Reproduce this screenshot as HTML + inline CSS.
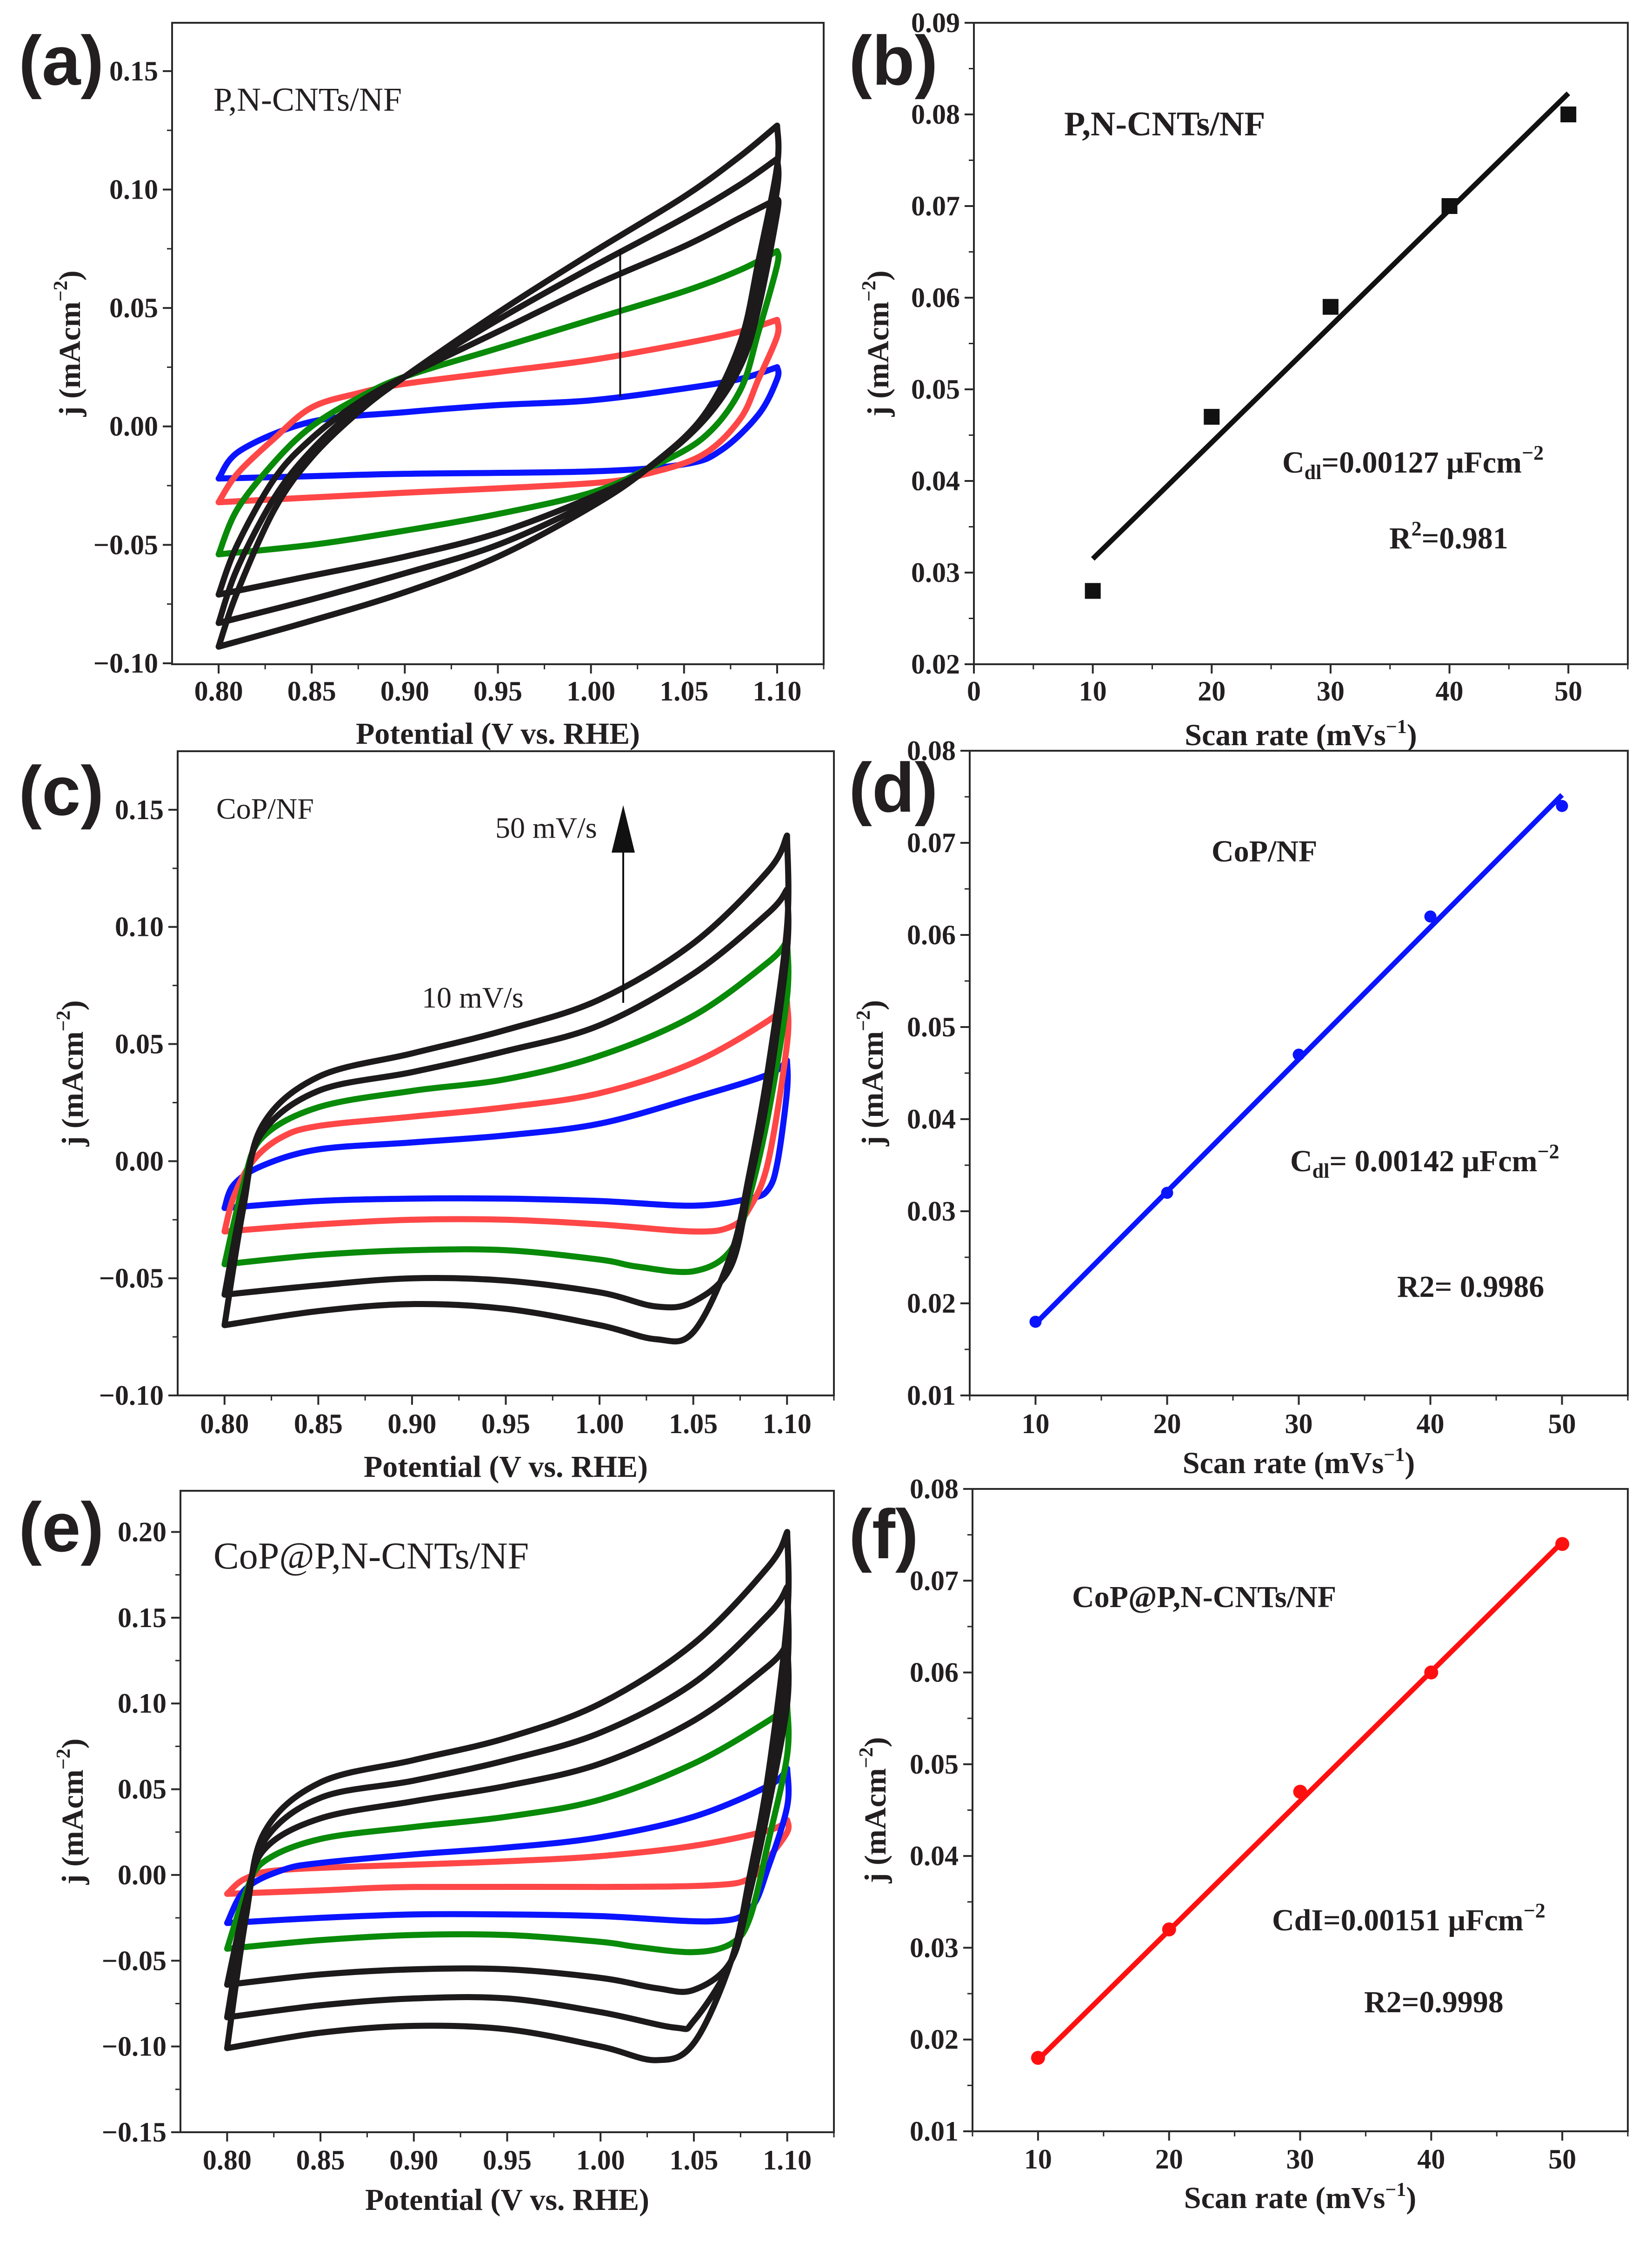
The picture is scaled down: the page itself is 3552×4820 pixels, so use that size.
<!DOCTYPE html>
<html><head><meta charset="utf-8"><style>
html,body{margin:0;padding:0;background:#fff}
svg{display:block}
text{font-family:"Liberation Serif",serif;fill:#231f20}
.tick{font-weight:bold;font-size:60px}
.title{font-weight:bold;font-size:66px}
.plab{font-family:"Liberation Sans",sans-serif;font-weight:bold;font-size:150px}
</style></head><body>
<svg id="fig" width="3552" height="4820" viewBox="0 0 3552 4820" xmlns="http://www.w3.org/2000/svg">
<rect width="3552" height="4820" fill="#fff"/>
</svg>
<script>
// ---------- data: panel (a) P,N-CNTs/NF CV curves [V, j] ----------
const aBlueFwd=[[0.80,-0.022],[0.812,-0.010],[0.85,0.002],[0.90,0.006],[0.95,0.009],[1.00,0.011],[1.05,0.016],[1.08,0.020],[1.10,0.025]];
const aBlueRev=[[1.10,0.020],[1.09,0.005],[1.07,-0.010],[1.05,-0.016],[1.00,-0.019],[0.90,-0.020],[0.85,-0.021],[0.80,-0.022]];
const aRedFwd=[[0.80,-0.032],[0.81,-0.020],[0.83,-0.005],[0.85,0.008],[0.875,0.014],[0.90,0.018],[0.95,0.023],[1.00,0.028],[1.05,0.035],[1.08,0.040],[1.10,0.045]];
const aRedRev=[[1.10,0.038],[1.09,0.020],[1.08,0.003],[1.06,-0.012],[1.03,-0.020],[1.00,-0.024],[0.90,-0.028],[0.85,-0.030],[0.80,-0.032]];
const aGreenFwd=[[0.80,-0.054],[0.81,-0.035],[0.83,-0.015],[0.85,0.000],[0.875,0.012],[0.90,0.021],[0.95,0.033],[1.00,0.045],[1.05,0.057],[1.08,0.066],[1.10,0.074]];
const aGreenRev=[[1.10,0.068],[1.09,0.040],[1.08,0.015],[1.06,-0.005],[1.03,-0.018],[1.00,-0.028],[0.95,-0.037],[0.90,-0.044],[0.85,-0.050],[0.80,-0.054]];
const aBlack1Fwd=[[0.80,-0.071],[0.81,-0.050],[0.83,-0.022],[0.85,-0.005],[0.875,0.010],[0.90,0.021],[0.95,0.040],[1.00,0.059],[1.05,0.076],[1.08,0.088],[1.10,0.096]];
const aBlack1Rev=[[1.10,0.090],[1.09,0.050],[1.08,0.025],[1.06,0.002],[1.03,-0.018],[1.00,-0.030],[0.95,-0.045],[0.90,-0.055],[0.85,-0.063],[0.80,-0.071]];
const aBlack2Fwd=[[0.80,-0.083],[0.81,-0.060],[0.83,-0.030],[0.85,-0.010],[0.875,0.008],[0.90,0.021],[0.95,0.045],[1.00,0.067],[1.05,0.088],[1.08,0.102],[1.10,0.113]];
const aBlack2Rev=[[1.10,0.100],[1.09,0.060],[1.08,0.030],[1.06,0.003],[1.03,-0.018],[1.00,-0.032],[0.95,-0.050],[0.90,-0.062],[0.85,-0.073],[0.80,-0.083]];
const aBlack3Fwd=[[0.80,-0.093],[0.81,-0.070],[0.83,-0.035],[0.85,-0.013],[0.875,0.006],[0.90,0.021],[0.95,0.048],[1.00,0.073],[1.05,0.097],[1.08,0.114],[1.10,0.127]];
const aBlack3Rev=[[1.10,0.110],[1.09,0.070],[1.08,0.035],[1.06,0.004],[1.03,-0.018],[1.00,-0.034],[0.95,-0.055],[0.90,-0.070],[0.85,-0.082],[0.80,-0.093]];
// ---------- data: panel (c) CoP/NF ----------
const cBlueFwd=[[0.80,-0.020],[0.805,-0.010],[0.82,-0.002],[0.85,0.005],[0.90,0.008],[0.95,0.011],[1.00,0.016],[1.05,0.027],[1.09,0.037],[1.10,0.043]];
const cBlueRev=[[1.10,0.030],[1.095,0.000],[1.09,-0.012],[1.08,-0.016],[1.05,-0.019],[1.00,-0.017],[0.95,-0.016],[0.90,-0.016],[0.85,-0.017],[0.80,-0.020]];
const cRedFwd=[[0.80,-0.030],[0.805,-0.015],[0.815,0.000],[0.83,0.010],[0.85,0.015],[0.90,0.019],[0.95,0.023],[1.00,0.029],[1.05,0.042],[1.09,0.060],[1.10,0.068]];
const cRedRev=[[1.10,0.050],[1.09,0.000],[1.08,-0.020],[1.07,-0.028],[1.05,-0.030],[1.00,-0.027],[0.95,-0.025],[0.90,-0.025],[0.85,-0.027],[0.80,-0.030]];
const cGreenFwd=[[0.80,-0.044],[0.81,-0.010],[0.82,0.010],[0.85,0.023],[0.90,0.030],[0.95,0.035],[1.00,0.045],[1.05,0.062],[1.09,0.085],[1.10,0.094]];
const cGreenRev=[[1.10,0.070],[1.09,0.020],[1.08,-0.015],[1.07,-0.038],[1.05,-0.047],[1.02,-0.045],[1.00,-0.042],[0.95,-0.038],[0.90,-0.038],[0.85,-0.040],[0.80,-0.044]];
const cBlack1Fwd=[[0.80,-0.057],[0.81,-0.015],[0.82,0.012],[0.85,0.030],[0.90,0.038],[0.95,0.047],[1.00,0.058],[1.05,0.080],[1.09,0.106],[1.10,0.116]];
const cBlack1Rev=[[1.10,0.090],[1.09,0.030],[1.08,-0.010],[1.07,-0.045],[1.05,-0.060],[1.03,-0.062],[1.00,-0.056],[0.95,-0.051],[0.90,-0.050],[0.85,-0.053],[0.80,-0.057]];
const cBlack2Fwd=[[0.80,-0.070],[0.81,-0.020],[0.82,0.015],[0.85,0.036],[0.90,0.046],[0.95,0.056],[1.00,0.069],[1.05,0.093],[1.09,0.124],[1.10,0.139]];
const cBlack2Rev=[[1.10,0.100],[1.09,0.040],[1.08,-0.005],[1.07,-0.040],[1.05,-0.073],[1.03,-0.076],[1.00,-0.070],[0.95,-0.063],[0.90,-0.061],[0.85,-0.064],[0.80,-0.070]];
// ---------- data: panel (e) CoP@P,N-CNTs/NF ----------
const eRedFwd=[[0.80,-0.011],[0.81,-0.002],[0.83,0.003],[0.90,0.006],[0.95,0.008],[1.00,0.011],[1.05,0.017],[1.09,0.026],[1.10,0.032]];
const eRedRev=[[1.10,0.025],[1.09,0.010],[1.08,-0.002],[1.06,-0.006],[1.00,-0.007],[0.90,-0.007],[0.85,-0.009],[0.80,-0.011]];
const eBlueFwd=[[0.80,-0.028],[0.81,-0.008],[0.83,0.003],[0.85,0.007],[0.90,0.012],[0.95,0.016],[1.00,0.022],[1.05,0.034],[1.09,0.052],[1.10,0.062]];
const eBlueRev=[[1.10,0.040],[1.09,0.005],[1.08,-0.020],[1.06,-0.027],[1.00,-0.024],[0.95,-0.023],[0.90,-0.023],[0.85,-0.025],[0.80,-0.028]];
const eGreenFwd=[[0.80,-0.043],[0.81,-0.010],[0.82,0.008],[0.85,0.021],[0.90,0.028],[0.95,0.034],[1.00,0.044],[1.05,0.065],[1.09,0.090],[1.10,0.099]];
const eGreenRev=[[1.10,0.070],[1.09,0.020],[1.08,-0.025],[1.07,-0.040],[1.05,-0.045],[1.02,-0.042],[1.00,-0.039],[0.95,-0.035],[0.90,-0.035],[0.85,-0.038],[0.80,-0.043]];
const eBlack1Fwd=[[0.80,-0.064],[0.81,-0.015],[0.82,0.015],[0.85,0.033],[0.90,0.043],[0.95,0.052],[1.00,0.065],[1.05,0.090],[1.09,0.122],[1.10,0.135]];
const eBlack1Rev=[[1.10,0.100],[1.09,0.040],[1.08,-0.010],[1.07,-0.050],[1.05,-0.067],[1.03,-0.066],[1.00,-0.060],[0.95,-0.055],[0.90,-0.055],[0.85,-0.058],[0.80,-0.064]];
const eBlack2Fwd=[[0.80,-0.083],[0.81,-0.020],[0.82,0.020],[0.85,0.045],[0.90,0.055],[0.95,0.067],[1.00,0.083],[1.05,0.112],[1.09,0.152],[1.10,0.168]];
const eBlack2Rev=[[1.10,0.120],[1.09,0.050],[1.08,-0.005],[1.07,-0.050],[1.05,-0.085],[1.04,-0.089],[1.00,-0.080],[0.95,-0.072],[0.90,-0.072],[0.85,-0.076],[0.80,-0.083]];
const eBlack3Fwd=[[0.80,-0.101],[0.81,-0.025],[0.82,0.025],[0.85,0.054],[0.90,0.067],[0.95,0.080],[1.00,0.100],[1.05,0.135],[1.09,0.180],[1.10,0.200]];
const eBlack3Rev=[[1.10,0.150],[1.09,0.060],[1.08,0.000],[1.07,-0.050],[1.05,-0.098],[1.03,-0.108],[1.00,-0.100],[0.95,-0.090],[0.90,-0.088],[0.85,-0.092],[0.80,-0.101]];
// ---------- data: Cdl panels ----------
const scanRates=[10,20,30,40,50];
const bValues=[0.028,0.047,0.059,0.070,0.080];
const bFit=[0.0315,0.0823];
const dValues=[0.018,0.032,0.047,0.062,0.074];
const dFit=[0.0178,0.0752];
const fValues=[0.018,0.032,0.047,0.060,0.074];
const fFit=[0.0178,0.0742];
const cvXTicks=[0.80,0.85,0.90,0.95,1.00,1.05,1.10];
const aYTicks=[-0.10,-0.05,0.00,0.05,0.10,0.15];
const cYTicks=[-0.10,-0.05,0.00,0.05,0.10,0.15];
const eYTicks=[-0.15,-0.10,-0.05,0.00,0.05,0.10,0.15,0.20];
const bXTicks=[0,10,20,30,40,50];
const dXTicks=[10,20,30,40,50];
const bYTicks=[0.02,0.03,0.04,0.05,0.06,0.07,0.08,0.09];
const dYTicks=[0.01,0.02,0.03,0.04,0.05,0.06,0.07,0.08];

const NS='http://www.w3.org/2000/svg';
const svg=document.getElementById('fig');
function mk(tag,attrs,parent){const e=document.createElementNS(NS,tag);for(const k in attrs)e.setAttribute(k,attrs[k]);(parent||svg).appendChild(e);return e;}
function panel(name,box,xd,yd){
  const g=mk('g',{});
  
  
  return {g,box,sx:v=>box[0]+(v-xd[0])/(xd[1]-xd[0])*(box[2]-box[0]),sy:v=>box[3]-(v-yd[0])/(yd[1]-yd[0])*(box[3]-box[1])};
}
function fmt(v,d){const s=Math.abs(v).toFixed(d);return (v<-1e-9?'\u2212':'')+s;}
function axes(P,xt,xminor,yt,yminor,xdec,ydec,xlabY,xTitle,xTitleY,yTitleX){
  const b=P.box,g=P.g;
  const fr=mk('rect',{x:b[0],y:b[1],width:b[2]-b[0],height:b[3]-b[1],fill:'none',stroke:'#2a2a2a','stroke-width':4},g);
  
  
  xt.forEach(v=>{const x=P.sx(v);
    const t=mk('line',{x1:x,x2:x,y1:b[3],y2:b[3]+20,stroke:'#2a2a2a','stroke-width':4},g);
    
    
    const l=mk('text',{x:x,y:xlabY,'text-anchor':'middle',class:'tick'},g);l.textContent=fmt(v,xdec);
    
    });
  xminor.forEach(v=>{const x=P.sx(v);
    const t=mk('line',{x1:x,x2:x,y1:b[3],y2:b[3]+11,stroke:'#2a2a2a','stroke-width':3},g);
    
    });
  yt.forEach(v=>{const y=P.sy(v);
    const t=mk('line',{x1:b[0]-20,x2:b[0],y1:y,y2:y,stroke:'#2a2a2a','stroke-width':4},g);
    
    
    const l=mk('text',{x:b[0]-30,y:y+20,'text-anchor':'end',class:'tick'},g);l.textContent=fmt(v,ydec);
    
    });
  yminor.forEach(v=>{const y=P.sy(v);
    const t=mk('line',{x1:b[0]-11,x2:b[0],y1:y,y2:y,stroke:'#2a2a2a','stroke-width':3},g);
    
    });
  const xt2=mk('text',{x:(b[0]+b[2])/2,y:xTitleY,'text-anchor':'middle',class:'title'},g);
  
  
  xt2.innerHTML=xTitle;
  const cy=(b[1]+b[3])/2;
  const yt2=mk('text',{x:yTitleX,y:cy,'text-anchor':'middle',class:'title',transform:`rotate(-90 ${yTitleX} ${cy})`,dy:'20'},g);
  
  
  yt2.innerHTML='j (mAcm<tspan font-size="42" dy="-28">\u22122</tspan><tspan dy="28">)</tspan>';
}
function spline(pts){
  let d=`M${pts[0][0].toFixed(1)},${pts[0][1].toFixed(1)}`;
  for(let i=0;i<pts.length-1;i++){
    const p0=pts[i-1]||pts[i],p1=pts[i],p2=pts[i+1],p3=pts[i+2]||p2;
    const c1=[p1[0]+(p2[0]-p0[0])/6,p1[1]+(p2[1]-p0[1])/6],c2=[p2[0]-(p3[0]-p1[0])/6,p2[1]-(p3[1]-p1[1])/6];
    d+=`C${c1[0].toFixed(1)},${c1[1].toFixed(1)} ${c2[0].toFixed(1)},${c2[1].toFixed(1)} ${p2[0].toFixed(1)},${p2[1].toFixed(1)}`;
  }
  return d;
}
function cv(P,fwd,rev,color,name){
  const a=spline(fwd.map(p=>[P.sx(p[0]),P.sy(p[1])]));
  const r=spline([fwd[fwd.length-1]].concat(rev).map(p=>[P.sx(p[0]),P.sy(p[1])]));
  const e=mk('path',{d:a+' '+r.replace('M','L')+'Z',fill:'none',stroke:color,'stroke-width':13,'stroke-linejoin':'round'},P.g);
  
  
}
function txt(P,x,y,html,size,bold,name){
  const t=mk('text',{x:x,y:y,'font-size':size,'font-weight':bold?'bold':'normal'},P.g);
  t.innerHTML=html;
  
  
}
function plab(x,y,s,name){
  const t=mk('text',{x:x,y:y,class:'plab'});t.textContent=s;
  
  
}
const cvMinor=[0.825,0.875,0.925,0.975,1.025,1.075,1.125];
const POT='Potential (V vs. RHE)';
const SCAN='Scan rate (mVs<tspan font-size="42" dy="-26">\u22121</tspan><tspan dy="26">)</tspan>';
const BLK='#1c1a1a',BLU='#0a14ff',RED='#ff4747',GRN='#098a09';

// (a)
const A=panel('panel-a-cv',[370,49,1771,1428],[0.775,1.125],[-0.1004,0.1704]);
axes(A,cvXTicks,cvMinor,aYTicks,[-0.075,-0.025,0.025,0.075,0.125],2,2,1506,POT,1599,152);
cv(A,aBlueFwd,aBlueRev,BLU,'cv-10mvs');cv(A,aRedFwd,aRedRev,RED,'cv-20mvs');cv(A,aGreenFwd,aGreenRev,GRN,'cv-30mvs');
cv(A,aBlack1Fwd,aBlack1Rev,BLK,'cv-40mvs');cv(A,aBlack2Fwd,aBlack2Rev,BLK,'cv-50mvs');cv(A,aBlack3Fwd,aBlack3Rev,BLK,'cv-60mvs');
{const l=mk('line',{x1:A.sx(1.0157),x2:A.sx(1.0157),y1:A.sy(0.0126),y2:A.sy(0.0746),stroke:'#111','stroke-width':4},A.g);

}
txt(A,459,238,'P,N-CNTs/NF',72,false,'sample-label');
plab(40,182,'(a)','panel-label-a');

// (b)
const B=panel('panel-b-cdl',[2094,49,3500,1428],[0,55],[0.02,0.09]);
axes(B,bXTicks,[5,15,25,35,45,55],bYTicks,[0.025,0.035,0.045,0.055,0.065,0.075,0.085],0,2,1506,SCAN,1602,1890);
{const l=mk('line',{x1:B.sx(scanRates[0]),y1:B.sy(bFit[0]),x2:B.sx(scanRates[4]),y2:B.sy(bFit[1]),stroke:'#111','stroke-width':11},B.g);

}
scanRates.forEach((s,i)=>{const r=mk('rect',{x:B.sx(s)-17,y:B.sy(bValues[i])-17,width:34,height:34,fill:'#111'},B.g);

});
txt(B,2288,291,'P,N-CNTs/NF',74,true,'sample-label');
txt(B,2757,1016,'C<tspan font-size="44" dy="14">dl</tspan><tspan dy="-14">=0.00127 \u03bcFcm</tspan><tspan font-size="44" dy="-28">\u22122</tspan>',66,true,'cdl-annotation');
txt(B,2987,1179,'R<tspan font-size="44" dy="-28">2</tspan><tspan dy="28">=0.981</tspan>',66,true,'r2-annotation');
plab(1825,182,'(b)','panel-label-b');

// (c)
const C=panel('panel-c-cv',[382,1615,1793,3000],[0.775,1.125],[-0.10,0.175]);
axes(C,cvXTicks,cvMinor,cYTicks,[-0.075,-0.025,0.025,0.075,0.125],2,2,3081,POT,3175,158);
cv(C,cBlueFwd,cBlueRev,BLU,'cv-10mvs');cv(C,cRedFwd,cRedRev,RED,'cv-20mvs');cv(C,cGreenFwd,cGreenRev,GRN,'cv-30mvs');
cv(C,cBlack1Fwd,cBlack1Rev,BLK,'cv-40mvs');cv(C,cBlack2Fwd,cBlack2Rev,BLK,'cv-50mvs');
{const l=mk('line',{x1:1340,x2:1340,y1:2156,y2:1830,stroke:'#111','stroke-width':4},C.g);


const h=mk('polygon',{points:'1340,1731 1315,1833 1365,1833',fill:'#111'},C.g);

}
txt(C,465,1760,'CoP/NF',64,false,'sample-label');
txt(C,1065,1801,'50 mV/s',64,false,'arrow-label-50');
txt(C,907,2166,'10 mV/s',64,false,'arrow-label-10');
plab(40,1752,'(c)','panel-label-c');

// (d)
const D=panel('panel-d-cdl',[2085,1614,3500,3000],[5,55],[0.01,0.08]);
axes(D,dXTicks,[5,15,25,35,45,55],dYTicks,[0.015,0.025,0.035,0.045,0.055,0.065,0.075],0,2,3081,SCAN,3167,1878);
{const l=mk('line',{x1:D.sx(scanRates[0]),y1:D.sy(dFit[0]),x2:D.sx(scanRates[4]),y2:D.sy(dFit[1]),stroke:BLU,'stroke-width':11},D.g);

}
scanRates.forEach((s,i)=>{const c=mk('circle',{cx:D.sx(s),cy:D.sy(dValues[i]),r:13,fill:BLU},D.g);

});
txt(D,2605,1852,'CoP/NF',66,true,'sample-label');
txt(D,2774,2518,'C<tspan font-size="44" dy="14">dl</tspan><tspan dy="-14">= 0.00142 \u03bcFcm</tspan><tspan font-size="44" dy="-28">\u22122</tspan>',66,true,'cdl-annotation');
txt(D,3004,2788,'R2= 0.9986',66,true,'r2-annotation');
plab(1825,1745,'(d)','panel-label-d');

// (e)
const E=panel('panel-e-cv',[388,3205,1793,4584],[0.775,1.125],[-0.15,0.224]);
axes(E,cvXTicks,cvMinor,eYTicks,[-0.125,-0.075,-0.025,0.025,0.075,0.125,0.175],2,2,4664,POT,4751,158);
cv(E,eRedFwd,eRedRev,RED,'cv-10mvs');cv(E,eBlueFwd,eBlueRev,BLU,'cv-20mvs');cv(E,eGreenFwd,eGreenRev,GRN,'cv-30mvs');
cv(E,eBlack1Fwd,eBlack1Rev,BLK,'cv-40mvs');cv(E,eBlack2Fwd,eBlack2Rev,BLK,'cv-50mvs');cv(E,eBlack3Fwd,eBlack3Rev,BLK,'cv-60mvs');
txt(E,459,3372,'CoP@P,N-CNTs/NF',82,false,'sample-label');
plab(40,3335,'(e)','panel-label-e');

// (f)
const F=panel('panel-f-cdl',[2091,3201,3500,4582],[5,55],[0.01,0.08]);
axes(F,dXTicks,[5,15,25,35,45,55],dYTicks,[0.015,0.025,0.035,0.045,0.055,0.065,0.075],0,2,4662,SCAN,4747,1884);
{const l=mk('line',{x1:F.sx(scanRates[0]),y1:F.sy(fFit[0]),x2:F.sx(scanRates[4]),y2:F.sy(fFit[1]),stroke:'#ff1010','stroke-width':11},F.g);

}
scanRates.forEach((s,i)=>{const c=mk('circle',{cx:F.sx(s),cy:F.sy(fValues[i]),r:15,fill:'#ff1010'},F.g);

});
txt(F,2305,3455,'CoP@P,N-CNTs/NF',66,true,'sample-label');
txt(F,2735,4150,'CdI=0.00151 \u03bcFcm<tspan font-size="44" dy="-28">\u22122</tspan>',66,true,'cdl-annotation');
txt(F,2933,4326,'R2=0.9998',66,true,'r2-annotation');
plab(1825,3350,'(f)','panel-label-f');
</script>
</body></html>
